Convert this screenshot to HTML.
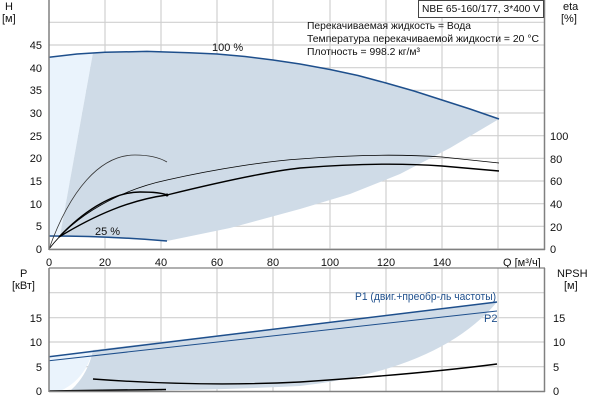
<!DOCTYPE html>
<html><head><meta charset="utf-8"><style>
html,body{margin:0;padding:0;background:#fff}
svg{display:block;font-family:"Liberation Sans",sans-serif}
</style></head><body>
<svg width="600" height="400" viewBox="0 0 600 400" xmlns="http://www.w3.org/2000/svg">
<g stroke="#d0d0d0" stroke-width="1.2">
<line x1="49" y1="249" x2="545" y2="249"/><line x1="49" y1="226.3" x2="545" y2="226.3"/>
<line x1="49" y1="203.7" x2="545" y2="203.7"/><line x1="49" y1="181" x2="545" y2="181"/>
<line x1="49" y1="158.3" x2="545" y2="158.3"/><line x1="49" y1="135.7" x2="545" y2="135.7"/>
<line x1="49" y1="113" x2="545" y2="113"/><line x1="49" y1="90.3" x2="545" y2="90.3"/>
<line x1="49" y1="67.7" x2="545" y2="67.7"/><line x1="49" y1="45" x2="545" y2="45"/>
<line x1="49" y1="22.3" x2="545" y2="22.3"/>
<line x1="105" y1="0" x2="105" y2="249"/><line x1="161" y1="0" x2="161" y2="249"/>
<line x1="217" y1="0" x2="217" y2="249"/><line x1="273" y1="0" x2="273" y2="249"/>
<line x1="330" y1="0" x2="330" y2="249"/><line x1="386" y1="0" x2="386" y2="249"/>
<line x1="442" y1="0" x2="442" y2="249"/><line x1="498" y1="0" x2="498" y2="249"/>
</g>
<path d="M49,57.3 L77,54 L93,52.8 L60,236 L49,236 Z" fill="#eaf3fc"/>
<path d="M93,52.8 L105,52.3 L147,51.4 L189,52.7 L217,54 L245,56.5 L273,60 L300,64 L330,69.5 L358,75.5 L386,83 L414,91 L442,100 L470,109 L499,119 L450,148 L400,174 L350,194 L300,209 L230,228 L167,241 Q110,238 60,236 Z" fill="#cfdbe7"/>
<path d="M49,57.3 L77,54 L105,52.3 L147,51.4 L189,52.7 L217,54 L245,56.5 L273,60 L300,64 L330,69.5 L358,75.5 L386,83 L414,91 L442,100 L470,109 L499,119" fill="none" stroke="#1e4f8c" stroke-width="1.5" stroke-linejoin="round"/>
<path d="M49,236 Q110,236 167,241" fill="none" stroke="#1e4f8c" stroke-width="1.5"/>
<path d="M49,249 C70,190 100,155 135,155 Q155,155 167,162" fill="none" stroke="#333" stroke-width="0.8"/>
<path d="M59,237 C80,215 110,192 140,192 Q160,192 167,195" fill="none" stroke="#000" stroke-width="1.4"/>
<path d="M49,249 C75,215 120,190 167,180 C220,168 270,161 300,159 C350,155 400,154 442,157 L499,163" fill="none" stroke="#000" stroke-width="0.8"/>
<path d="M59,237 C95,215 130,200 167,195 C220,182 265,172 300,168 C350,164 400,163 442,166 L499,171" fill="none" stroke="#000" stroke-width="1.4"/>
<circle cx="167" cy="195" r="1.5"/>
<line x1="49" y1="0" x2="49" y2="250" stroke="#808080" stroke-width="1.5"/>
<line x1="49" y1="249.5" x2="545" y2="249.5" stroke="#808080" stroke-width="1.5"/>
<line x1="544.5" y1="0" x2="544.5" y2="250" stroke="#808080" stroke-width="1.5"/>
<g font-size="11" fill="#111">
<text x="5" y="10">H</text><text x="2" y="22">[м]</text>
<text x="563" y="10">eta</text><text x="561" y="22">[%]</text>
<g text-anchor="end">
<text x="42" y="253">0</text><text x="42" y="230">5</text><text x="42" y="208">10</text>
<text x="42" y="185">15</text><text x="42" y="162">20</text><text x="42" y="140">25</text>
<text x="42" y="117">30</text><text x="42" y="94">35</text><text x="42" y="72">40</text>
<text x="42" y="49">45</text></g>
<text x="550" y="253">0</text><text x="550" y="231">20</text><text x="550" y="208">40</text>
<text x="550" y="185">60</text><text x="550" y="163">80</text><text x="550" y="140">100</text>
<g text-anchor="middle">
<text x="49" y="266">0</text><text x="105" y="266">20</text><text x="161" y="266">40</text>
<text x="217" y="266">60</text><text x="273" y="266">80</text><text x="330" y="266">100</text>
<text x="386" y="266">120</text><text x="442" y="266">140</text></g>
<text x="503" y="266">Q [м³/ч]</text>
<text x="212" y="51">100 %</text><text x="95" y="235">25 %</text>
<rect x="418.5" y="0.5" width="125" height="17" fill="#fff" stroke="#444"/>
<text x="422" y="12" font-size="10.5" textLength="118" lengthAdjust="spacingAndGlyphs">NBE 65-160/177, 3*400 V</text>
<text x="307" y="29" font-size="10.5" textLength="164" lengthAdjust="spacingAndGlyphs">Перекачиваемая жидкость = Вода</text>
<text x="307" y="42" font-size="10.5" textLength="232" lengthAdjust="spacingAndGlyphs">Температура перекачиваемой жидкости = 20 °C</text>
<text x="307" y="55" font-size="10.5" textLength="113" lengthAdjust="spacingAndGlyphs">Плотность = 998.2 кг/м³</text>
</g>
<g stroke="#d0d0d0" stroke-width="1.2">
<line x1="49" y1="366.7" x2="545" y2="366.7"/><line x1="49" y1="342" x2="545" y2="342"/>
<line x1="49" y1="317.7" x2="545" y2="317.7"/><line x1="49" y1="292.7" x2="545" y2="292.7"/>
<line x1="105" y1="268" x2="105" y2="391"/><line x1="161" y1="268" x2="161" y2="391"/>
<line x1="217" y1="268" x2="217" y2="391"/><line x1="273" y1="268" x2="273" y2="391"/>
<line x1="330" y1="268" x2="330" y2="391"/><line x1="386" y1="268" x2="386" y2="391"/>
<line x1="442" y1="268" x2="442" y2="391"/><line x1="498" y1="268" x2="498" y2="391"/>
</g>
<path d="M49,358 L93,350 Q85,380 60,391 L49,391 Z" fill="#eaf3fc"/>
<path d="M93,350 L497,302 Q440,370 300,386 Q200,391 70,391 Q88,375 93,350 Z" fill="#cfdbe7"/>
<path d="M49,356.7 L497,302" stroke="#1e4f8c" stroke-width="1.5"/>
<path d="M49,360.7 L497,311" stroke="#1e4f8c" stroke-width="1"/>
<path d="M93,379 Q200,387 300,382 Q420,374 497,364" fill="none" stroke="#000" stroke-width="1.4"/>
<path d="M49,391 L166,389.5" stroke="#000" stroke-width="1.6"/>
<line x1="49" y1="268" x2="545" y2="268" stroke="#808080" stroke-width="1.2"/>
<line x1="49" y1="268" x2="49" y2="392" stroke="#808080" stroke-width="1.5"/>
<line x1="49" y1="391.5" x2="545" y2="391.5" stroke="#808080" stroke-width="1.5"/>
<line x1="544.5" y1="268" x2="544.5" y2="392" stroke="#808080" stroke-width="1.5"/>
<g font-size="11" fill="#111">
<text x="20" y="277">P</text><text x="12" y="289">[кВт]</text>
<text x="557" y="277">NPSH</text><text x="564" y="289">[м]</text>
<g text-anchor="end"><text x="42" y="395">0</text><text x="42" y="371">5</text>
<text x="42" y="346">10</text><text x="42" y="322">15</text></g>
<text x="553" y="395">0</text><text x="553" y="371">5</text>
<text x="553" y="346">10</text><text x="553" y="322">15</text>
<text x="355" y="300" fill="#1e4f8c" textLength="141" lengthAdjust="spacingAndGlyphs">P1 (двиг.+преобр-ль частоты)</text>
<text x="484" y="322" fill="#1e4f8c">P2</text>
</g>
</svg>
</body></html>
